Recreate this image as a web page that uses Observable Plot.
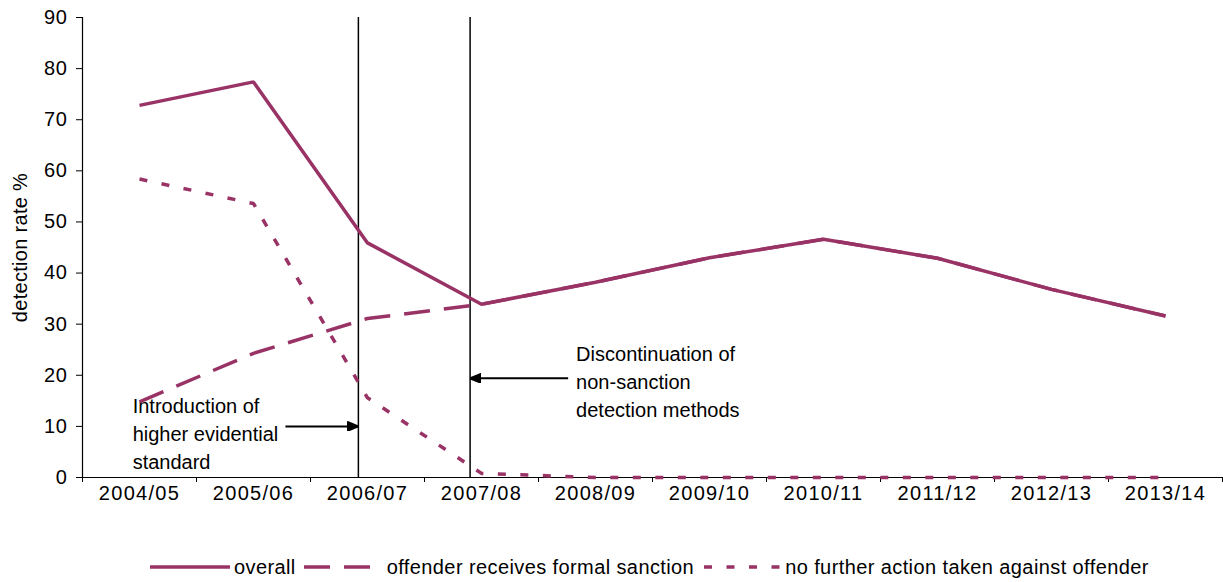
<!DOCTYPE html>
<html>
<head>
<meta charset="utf-8">
<script src="https://cdn.jsdelivr.net/npm/d3@7"></script>
<script src="https://cdn.jsdelivr.net/npm/@observablehq/plot@0.6"></script>
<style>
  body { margin: 0; background: #fff; font-family: "Liberation Sans", Arial, sans-serif; }
  #chart svg g[aria-label="x-axis tick label"] text { letter-spacing: 1.3px; }
  #chart svg g[aria-label="y-axis tick label"] text { letter-spacing: 0.6px; }
  #chart svg g[aria-label="y-axis label"] text { letter-spacing: 0.3px; }
  #legend { display: flex; align-items: center; height: 22px; margin-top: 36px; padding-left: 150px;
            font-size: 20px; letter-spacing: 0.4px; color: #000; white-space: nowrap; }
  #legend svg { display: block; }
</style>
</head>
<body>
<div id="chart"></div>
<div id="legend"></div>
<script>
// Financial years on the x axis
const years = ["2004/05", "2005/06", "2006/07", "2007/08", "2008/09",
               "2009/10", "2010/11", "2011/12", "2012/13", "2013/14"];

// Detection rates (%)
const overall         = [72.8, 77.4, 45.9, 33.9, 38.2, 43.0, 46.6, 42.9, 36.8, 31.6];
const formalSanction  = [14.8, 24.3, 31.1, 33.9, 38.2, 43.0, 46.6, 42.9, 36.8, 31.6];
const noFurtherAction = [58.4, 53.6, 15.6, 0.8, 0, 0, 0, 0, 0, 0];

const seriesNames = ["overall", "offender receives formal sanction", "no further action taken against offender"];

// Policy changes (position on the year index) and their notes
const changePoints = [1.92, 2.90];
const noteText = ["Introduction of\nhigher evidential\nstandard", "Discontinuation of\nnon-sanction\ndetection methods"];
const noteX = [-0.06, 3.83];
const noteY = [8.8, 19.0];
const arrowFrom = [1.28, 3.76];
const arrowY = [10, 19.4];

const color = "#993366";
const dashes = [null, "26,14", "8,14.5"];

const idx = years.map((_, i) => i);
const rows = vals => vals.map((v, i) => ({i, v}));
const notes = noteText.map((t, k) => ({text: t, x: noteX[k], y: noteY[k]}));
const arrows = changePoints.map((x, k) => ({x1: arrowFrom[k], x2: x, y: arrowY[k]}));

// filled triangular arrowhead
const arrowHead = (c, context) => {
  const ns = "http://www.w3.org/2000/svg";
  const doc = context && context.document ? context.document : document;
  const m = doc.createElementNS(ns, "marker");
  m.setAttribute("viewBox", "-11 -5 11 10");
  m.setAttribute("markerUnits", "userSpaceOnUse");
  m.setAttribute("markerWidth", 11);
  m.setAttribute("markerHeight", 10);
  m.setAttribute("orient", "auto");
  const p = doc.createElementNS(ns, "path");
  p.setAttribute("d", "M-11,-4.5L0,0L-11,4.5Z");
  p.setAttribute("fill", "#000");
  m.appendChild(p);
  return m;
};

const lineOpts = k => ({
  x: "i", y: "v", stroke: color, strokeWidth: 3.5,
  strokeLinecap: "butt", strokeLinejoin: "miter",
  strokeDasharray: dashes[k]
});

const chart = Plot.plot({
  width: 1223,
  height: 520,
  marginLeft: 82,
  marginRight: 1,
  marginTop: 17,
  marginBottom: 43,
  style: {fontFamily: "'Liberation Sans', Arial, sans-serif", fontSize: "20px", color: "#000", background: "#fff", overflow: "visible"},
  x: {domain: [-0.5, 9.5]},
  y: {domain: [0, 90]},
  marks: [
    Plot.axisY(d3.range(0, 91, 10), {
      tickSize: 6, tickPadding: 9, fontSize: 20,
      label: "detection rate %", labelAnchor: "center", labelArrow: "none", labelOffset: 70
    }),
    Plot.axisX(idx, {tickSize: 0, tickPadding: 8, fontSize: 20, tickFormat: i => years[i], label: null}),
    Plot.axisX(d3.range(-0.5, 10, 1), {tickSize: 5, tickFormat: () => "", label: null}),
    Plot.ruleX([-0.5], {stroke: "#000", strokeWidth: 1.2}),
    Plot.ruleY([0], {stroke: "#000", strokeWidth: 1.2}),
    Plot.ruleX(changePoints, {stroke: "#000", strokeWidth: 1.5}),
    Plot.link(arrows, {x1: "x1", x2: "x2", y1: "y", y2: "y", stroke: "#000", strokeWidth: 2, markerEnd: arrowHead}),
    Plot.text(notes, {x: "x", y: "y", text: "text", textAnchor: "start", lineHeight: 1.4, fontSize: 20, fill: "#000"}),
    Plot.line(rows(formalSanction), lineOpts(1)),
    Plot.line(rows(noFurtherAction), lineOpts(2)),
    Plot.line(rows(overall), lineOpts(0))
  ]
});
document.getElementById("chart").append(chart);

// Legend below the chart
const legend = d3.select("#legend");
const swatchW = [80, 70, 76];
const gapBefore = [0, 8, 10];
const gapAfter = [4, 13, 5];
seriesNames.forEach((name, k) => {
  const sw = legend.append("svg")
    .attr("width", swatchW[k]).attr("height", 10)
    .style("margin-left", gapBefore[k] + "px")
    .style("margin-right", gapAfter[k] + "px");
  sw.append("line")
    .attr("x1", 0).attr("x2", swatchW[k]).attr("y1", 5).attr("y2", 5)
    .attr("stroke", color).attr("stroke-width", 3.5)
    .attr("stroke-dasharray", dashes[k]);
  legend.append("span").text(name);
});
</script>
</body>
</html>
